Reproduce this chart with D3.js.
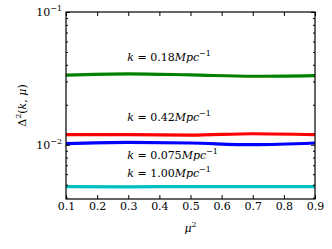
<!DOCTYPE html>
<html>
<head>
<meta charset="utf-8">
<script src="https://d3js.org/d3.v7.min.js"></script>
<style>
body { margin: 0; background: #fff; }
text { font-family: "DejaVu Serif", "Liberation Serif", serif; }
</style>
</head>
<body>
<svg id="chart"></svg>
<script>
var width = 332;
var height = 249;
var margin = {top: 12, right: 17, bottom: 50, left: 66};

var mu2 = [0.1, 0.3, 0.5, 0.7, 0.9];
var xTicks = [0.1, 0.2, 0.3, 0.4, 0.5, 0.6, 0.7, 0.8, 0.9];
var yDomain = [0.0039, 0.1];

var k018 = [0.0335, 0.0342, 0.0336, 0.0328, 0.0332];
var k042 = [0.0119, 0.0119, 0.0118, 0.0121, 0.0119];
var k0075 = [0.0102, 0.0104, 0.0103, 0.0100, 0.0103];
var k100 = [0.00483, 0.00482, 0.00484, 0.00483, 0.00484];

var series = [
  {name: '0.18', values: k018, color: '#008000', labelY: 0.0425},
  {name: '0.42', values: k042, color: '#ff0000', labelY: 0.0150},
  {name: '0.075', values: k0075, color: '#0000ff', labelY: 0.0078},
  {name: '1.00', values: k100, color: '#00bfbf', labelY: 0.0057}
];

var svg = d3.select('#chart')
    .attr('width', width)
    .attr('height', height);

var x = d3.scaleLinear()
    .domain([0.1, 0.9])
    .range([margin.left, width - margin.right]);

var y = d3.scaleLog()
    .domain(yDomain)
    .range([height - margin.bottom, margin.top]);

var line = d3.line()
    .x(function(d) { return x(d.x); })
    .y(function(d) { return y(d.y); })
    .curve(d3.curveMonotoneX);

svg.selectAll('path.series')
  .data(series)
  .enter()
  .append('path')
    .attr('class', 'series')
    .attr('fill', 'none')
    .attr('stroke', function(d) { return d.color; })
    .attr('stroke-width', 3.2)
    .attr('d', function(d) {
      return line(d.values.map(function(v, i) { return {x: mu2[i], y: v}; }));
    });

// labels
series.forEach(function(s) {
  var t = svg.append('text')
      .attr('x', x(0.3) - 1)
      .attr('y', y(s.labelY))
      .attr('font-size', 11);
  t.append('tspan').attr('font-style', 'italic').text('k');
  t.append('tspan').text(' = ' + s.name);
  t.append('tspan').attr('font-style', 'italic').text('Mpc');
  t.append('tspan').attr('font-size', 8).attr('dy', -5).text('\u22121');
});

// frame
svg.append('rect')
    .attr('x', margin.left)
    .attr('y', margin.top)
    .attr('width', width - margin.left - margin.right)
    .attr('height', height - margin.top - margin.bottom)
    .attr('fill', 'none')
    .attr('stroke', '#000')
    .attr('stroke-width', 1.2);

// x ticks bottom and top
var xb = d3.axisBottom(x).tickValues(xTicks).tickSize(-4).tickFormat(d3.format('.1f'));
var xt = d3.axisTop(x).tickValues(xTicks).tickSize(-4).tickFormat('');
svg.append('g').attr('class', 'axis')
    .attr('transform', 'translate(0,' + (height - margin.bottom) + ')')
    .call(xb);
svg.append('g').attr('class', 'axis')
    .attr('transform', 'translate(0,' + margin.top + ')')
    .call(xt);

// y ticks
var minor = [];
[0.001, 0.01].forEach(function(base) {
  for (var m = 2; m <= 9; m++) {
    var v = base * m;
    if (v > yDomain[0] && v < yDomain[1]) minor.push(v);
  }
});
var major = [0.01, 0.1];

[[d3.axisLeft, margin.left], [d3.axisRight, width - margin.right]].forEach(function(a) {
  svg.append('g').attr('class', 'axis')
      .attr('transform', 'translate(' + a[1] + ',0)')
      .call(a[0](y).tickValues(major).tickSize(-4).tickFormat(''));
  svg.append('g').attr('class', 'axis')
      .attr('transform', 'translate(' + a[1] + ',0)')
      .call(a[0](y).tickValues(minor).tickSize(-2).tickFormat(''));
});

svg.selectAll('.axis path').remove();
svg.selectAll('.axis text')
    .attr('font-size', 11)
    .attr('font-family', '"DejaVu Serif", serif')
    .attr('fill', '#000');
svg.selectAll('.axis line').attr('stroke', '#000');

// y tick labels 10^-1, 10^-2
major.forEach(function(v) {
  var t = svg.append('text')
      .attr('x', margin.left - 4)
      .attr('y', y(v) + 4)
      .attr('text-anchor', 'end')
      .attr('font-size', 11);
  t.append('tspan').text('10');
  t.append('tspan').attr('font-size', 8).attr('dy', -5).text('\u2212' + Math.round(-Math.log10(v)));
});

// x label
var xl = svg.append('text')
    .attr('x', (margin.left + width - margin.right) / 2)
    .attr('y', 232)
    .attr('text-anchor', 'middle')
    .attr('font-size', 11);
xl.append('tspan').attr('font-style', 'italic').text('\u03bc');
xl.append('tspan').attr('font-size', 8).attr('dy', -5).text('2');

// y label
var yl = svg.append('text')
    .attr('transform', 'translate(26,' + ((margin.top + height - margin.bottom) / 2) + ') rotate(-90)')
    .attr('text-anchor', 'middle')
    .attr('font-size', 11);
yl.append('tspan').text('\u0394');
yl.append('tspan').attr('font-size', 8).attr('dy', -5).text('2');
yl.append('tspan').attr('dy', 5).text('(');
yl.append('tspan').attr('font-style', 'italic').text('k');
yl.append('tspan').text(', ');
yl.append('tspan').attr('font-style', 'italic').text('\u03bc');
yl.append('tspan').text(')');
</script>
</body>
</html>
